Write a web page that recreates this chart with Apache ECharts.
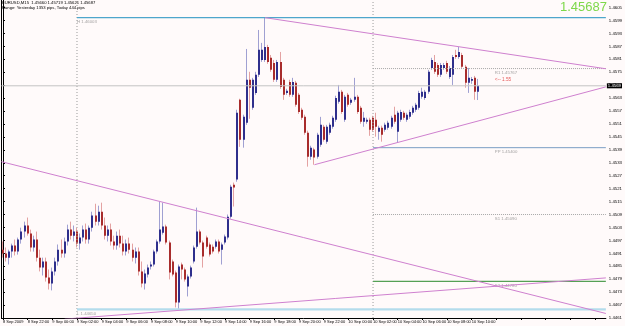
<!DOCTYPE html>
<html><head><meta charset="utf-8">
<script src="https://cdn.jsdelivr.net/npm/echarts@6/dist/echarts.min.js"></script>
<style>html,body{margin:0;padding:0;background:#fffafa}#c{width:625px;height:326px}</style>
</head><body><div id="c"></div>
<script>
const symbolName = 'EURUSD,M15';
const barsOnChart = 196;
const xTickLabels = ['8 Sep 2009','8 Sep 22:00','9 Sep 00:00','9 Sep 02:00','9 Sep 04:00','9 Sep 06:00','9 Sep 08:00','9 Sep 10:00','9 Sep 12:00','9 Sep 14:00','9 Sep 16:00','9 Sep 18:00','9 Sep 20:00','9 Sep 22:00','10 Sep 00:00','10 Sep 02:00','10 Sep 04:00','10 Sep 06:00','10 Sep 08:00','10 Sep 10:00'];
const yTickLabels = [1.4605,1.4599,1.4593,1.4587,1.4581,1.4575,1.4569,1.4563,1.4557,1.4551,1.4545,1.4539,1.4533,1.4527,1.4521,1.4515,1.4509,1.4503,1.4497,1.4491,1.4485,1.4479,1.4473,1.4467,1.4461];
const priceMin = 1.44610, priceMax = 1.46085;

const open = [1.44927,1.44909,1.44890,1.44918,1.44946,1.44918,1.44974,1.45011,1.45039,1.45002,
1.44937,1.44974,1.44890,1.44844,1.44872,1.44798,1.44770,1.44826,1.44872,1.44927,
1.44909,1.44965,1.45020,1.44992,1.45011,1.44955,1.44983,1.45020,1.44974,1.45029,
1.45085,1.45057,1.45103,1.45039,1.44992,1.45020,1.44965,1.44946,1.44992,1.44955,
1.44918,1.44955,1.44927,1.44890,1.44918,1.44826,1.44770,1.44812,1.44849,1.44858,
1.44918,1.44965,1.45006,1.45034,1.44960,1.44872,1.44821,1.44682,1.44858,1.44835,
1.44756,1.44803,1.44872,1.44941,1.45011,1.44960,1.44983,1.44951,1.44941,1.44941,
1.44965,1.44927,1.44960,1.44983,1.45080,1.45228,1.45252,1.45622,1.45437,1.45516,
1.45715,1.45585,1.45654,1.45738,1.45807,1.45807,1.45867,1.45817,1.45793,1.45715,
1.45798,1.45715,1.45654,1.45705,1.45645,1.45701,1.45645,1.45576,1.45543,1.45469,
1.45358,1.45391,1.45358,1.45414,1.45497,1.45428,1.45469,1.45497,1.45529,1.45613,
1.45659,1.45529,1.45645,1.45608,1.45622,1.45636,1.45585,1.45520,1.45520,1.45529,
1.45539,1.45529,1.45474,1.45492,1.45483,1.45492,1.45497,1.45553,1.45474,1.45529,
1.45562,1.45529,1.45543,1.45562,1.45576,1.45585,1.45636,1.45631,1.45659,1.45770,
1.45798,1.45784,1.45738,1.45770,1.45793,1.45728,1.45738,1.45830,1.45821,1.45830,
1.45775,1.45701,1.45710,1.45724,1.45660];
const high = [1.44965,1.44937,1.44927,1.44955,1.44974,1.44983,1.45029,1.45057,1.45076,1.45020,
1.44992,1.45011,1.44927,1.44890,1.44890,1.44835,1.44844,1.44890,1.44951,1.44974,
1.44983,1.45043,1.45057,1.45039,1.45029,1.45002,1.45039,1.45048,1.45039,1.45103,
1.45140,1.45131,1.45145,1.45076,1.45039,1.45048,1.44992,1.45011,1.45020,1.44992,
1.44974,1.44983,1.44955,1.44937,1.44937,1.44872,1.44835,1.44858,1.44872,1.44927,
1.44974,1.45150,1.45145,1.45043,1.44969,1.44881,1.44830,1.44858,1.44867,1.44844,
1.44812,1.44853,1.44946,1.45122,1.45020,1.44969,1.44992,1.44960,1.44951,1.44974,
1.44974,1.44960,1.44997,1.45090,1.45228,1.45238,1.45576,1.45627,1.45553,1.45858,
1.45752,1.45724,1.45752,1.45946,1.45886,1.46003,1.45877,1.45830,1.45807,1.45807,
1.45844,1.45724,1.45673,1.45715,1.45724,1.45710,1.45654,1.45585,1.45553,1.45479,
1.45409,1.45400,1.45469,1.45543,1.45506,1.45506,1.45516,1.45548,1.45641,1.45691,
1.45668,1.45645,1.45654,1.45631,1.45724,1.45645,1.45594,1.45566,1.45539,1.45539,
1.45548,1.45562,1.45502,1.45502,1.45516,1.45525,1.45548,1.45590,1.45571,1.45576,
1.45571,1.45562,1.45576,1.45594,1.45608,1.45664,1.45678,1.45668,1.45761,1.45817,
1.45830,1.45793,1.45793,1.45793,1.45803,1.45779,1.45830,1.45854,1.45867,1.45840,
1.45784,1.45770,1.45728,1.45733,1.45719];
const low = [1.44890,1.44872,1.44858,1.44890,1.44900,1.44904,1.44955,1.44983,1.44992,1.44918,
1.44918,1.44872,1.44826,1.44807,1.44779,1.44742,1.44738,1.44807,1.44853,1.44890,
1.44890,1.44946,1.44974,1.44965,1.44937,1.44927,1.44965,1.44955,1.44955,1.45011,
1.45039,1.45039,1.45020,1.44974,1.44965,1.44946,1.44927,1.44927,1.44937,1.44900,
1.44900,1.44909,1.44872,1.44863,1.44807,1.44752,1.44742,1.44798,1.44835,1.44849,
1.44909,1.44955,1.44997,1.44951,1.44789,1.44803,1.44659,1.44650,1.44789,1.44779,
1.44710,1.44793,1.44863,1.44932,1.44951,1.44844,1.44932,1.44895,1.44909,1.44932,
1.44909,1.44858,1.44951,1.44974,1.45071,1.45127,1.45242,1.45404,1.45400,1.45506,
1.45534,1.45576,1.45645,1.45728,1.45798,1.45798,1.45789,1.45752,1.45705,1.45705,
1.45673,1.45622,1.45645,1.45636,1.45636,1.45590,1.45557,1.45529,1.45460,1.45312,
1.45344,1.45321,1.45349,1.45404,1.45428,1.45418,1.45460,1.45488,1.45520,1.45604,
1.45557,1.45520,1.45590,1.45599,1.45613,1.45557,1.45511,1.45497,1.45511,1.45455,
1.45474,1.45451,1.45437,1.45428,1.45474,1.45483,1.45488,1.45511,1.45423,1.45520,
1.45529,1.45520,1.45534,1.45553,1.45566,1.45576,1.45627,1.45622,1.45650,1.45761,
1.45742,1.45728,1.45728,1.45761,1.45742,1.45719,1.45691,1.45812,1.45812,1.45766,
1.45678,1.45654,1.45696,1.45622,1.45621];
const close = [1.44909,1.44890,1.44918,1.44946,1.44918,1.44974,1.45011,1.45039,1.45002,1.44937,
1.44974,1.44890,1.44844,1.44872,1.44798,1.44770,1.44826,1.44872,1.44927,1.44909,
1.44965,1.45020,1.44992,1.45011,1.44955,1.44983,1.45020,1.44974,1.45029,1.45085,
1.45057,1.45103,1.45039,1.44992,1.45020,1.44965,1.44946,1.44992,1.44955,1.44918,
1.44955,1.44927,1.44890,1.44918,1.44826,1.44770,1.44816,1.44844,1.44858,1.44918,
1.44965,1.45020,1.45034,1.44960,1.44821,1.44812,1.44682,1.44849,1.44835,1.44789,
1.44803,1.44844,1.44937,1.45011,1.44960,1.44895,1.44941,1.44904,1.44918,1.44965,
1.44918,1.44951,1.44988,1.45080,1.45219,1.45215,1.45562,1.45437,1.45543,1.45715,
1.45678,1.45715,1.45738,1.45854,1.45854,1.45867,1.45798,1.45761,1.45715,1.45798,
1.45682,1.45645,1.45664,1.45645,1.45705,1.45599,1.45566,1.45539,1.45469,1.45358,
1.45400,1.45354,1.45460,1.45506,1.45437,1.45497,1.45506,1.45539,1.45631,1.45659,
1.45566,1.45636,1.45599,1.45622,1.45636,1.45566,1.45520,1.45539,1.45529,1.45483,
1.45483,1.45497,1.45492,1.45460,1.45506,1.45516,1.45539,1.45520,1.45562,1.45566,
1.45539,1.45553,1.45566,1.45585,1.45599,1.45654,1.45659,1.45659,1.45752,1.45807,
1.45752,1.45738,1.45784,1.45784,1.45752,1.45770,1.45821,1.45821,1.45844,1.45775,
1.45701,1.45724,1.45719,1.45659,1.45687];

const daySeparators = [24, 120];
const trendLines = [
  [[-0.5, 1.45335], [195.5, 1.44631]],
  [[20, 1.44605], [195.5, 1.44796]],
  [[85, 1.46003], [195.5, 1.45766]],
  [[101, 1.45321], [195.5, 1.45682]]
];
const pivotNames = ['R1', 'PP', 'S1', 'S2'];
const pivotValues = [1.45767, 1.45400, 1.45090, 1.44780];
const pivotNote = '<-- 1.55';
const pivotLabelBar = 159.5;

const n = open.length;
const last = n - 1;
const cats = Array.from({length: barsOnChart}, (_, i) => String(i));
const ySlice = (arr) => arr.slice(daySeparators[0], daySeparators[1]);
const dayHigh = Math.max(...ySlice(high));
const dayLow = Math.min(...ySlice(low));
const todayHigh = Math.max(...high.slice(daySeparators[1]));
const todayLow = Math.min(...low.slice(daySeparators[1]));
const pts = (v) => Math.round(v * 100000);
const header1 = symbolName + '  ' + open[last].toFixed(5) + ' ' + high[last].toFixed(5) + ' ' + low[last].toFixed(5) + ' ' + close[last].toFixed(5);
const header2 = 'Range: Yesterday ' + (pts(dayHigh) - pts(dayLow)) + ' pips, Today ' + (pts(todayHigh) - pts(todayLow)) + ' pips';

const BULL = '#2f2f8c', BEAR = '#a82c2c', BULLW = '#a0a0d2', BEARW = '#e4a2a2';
const FONT = 'Liberation Sans';
const FS = 4.3;

const candleData = open.map((o, i) => [i, o, close[i], low[i], high[i]]);

function renderCandle(params, api) {
  const i = api.value(0), o = api.value(1), c = api.value(2), l = api.value(3), h = api.value(4);
  const pO = api.coord([i, o]), pC = api.coord([i, c]);
  const pL = api.coord([i, l]), pH = api.coord([i, h]);
  const x0 = Math.round(pO[0] - 1);
  const top = Math.min(pO[1], pC[1]), bot = Math.max(pO[1], pC[1]);
  const bull = c >= o;
  return {
    type: 'group',
    children: [
      {type: 'line', shape: {x1: x0 + 0.5, y1: pH[1], x2: x0 + 0.5, y2: pL[1]},
       style: {stroke: bull ? BULLW : BEARW, lineWidth: 1}},
      {type: 'rect', shape: {x: x0, y: top, width: 2, height: Math.max(bot - top, 1)},
       style: {fill: bull ? BULL : BEAR}}
    ]
  };
}

const lineSeries = (data, style) => ({
  type: 'line', xAxisIndex: 1, yAxisIndex: 0, data: data, symbol: 'none', silent: true,
  lineStyle: style, clip: true, animation: false
});

const series = [];
daySeparators.forEach(b => series.push(lineSeries([[b, priceMin], [b, priceMax]], {color: '#9a9a9a', width: 1, type: [1, 2]})));
// bid line with price box on the axis
const bid = lineSeries([[-0.5, close[last]], [barsOnChart - 0.5, close[last]]], {color: '#c4c4c4', width: 1});
bid.clip = false;
bid.endLabel = {show: true, distance: 1, formatter: close[last].toFixed(4), backgroundColor: '#000', color: '#fff',
  fontSize: FS, fontFamily: FONT, padding: [1, 1, 0, 1]};
series.push(bid);
series.push({
  type: 'custom', xAxisIndex: 0, yAxisIndex: 0, data: candleData, renderItem: renderCandle, silent: true,
  encode: {x: 0, y: [1, 2, 3, 4]}, clip: true
});
series.push(lineSeries([[daySeparators[0], dayHigh], [barsOnChart - 0.5, dayHigh]], {color: '#4ea6cc', width: 1.2}));
series.push(lineSeries([[daySeparators[0], dayLow], [barsOnChart - 0.5, dayLow]], {color: '#b4dcec', width: 2.2}));
const pivotStyles = [
  {color: '#a8a8a8', width: 1, type: [1, 1]},
  {color: '#7a9ec4', width: 1},
  {color: '#a8a8a8', width: 1, type: [1, 1]},
  {color: '#55a055', width: 1.2}
];
pivotValues.forEach((v, k) => series.push(lineSeries([[daySeparators[1], v], [barsOnChart - 0.5, v]], pivotStyles[k])));
trendLines.forEach(t => series.push(lineSeries(t, {color: '#cf80cf', width: 1})));

const ann = [];
ann.push({value: [daySeparators[0], dayHigh], label: {formatter: 'H ' + dayHigh.toFixed(5)}});
ann.push({value: [daySeparators[0], dayLow], label: {formatter: 'L ' + dayLow.toFixed(5)}});
pivotValues.forEach((v, k) => {
  const txt = '{a|' + pivotNames[k] + ' ' + v.toFixed(5) + '}' + (k === 0 ? '\n{b|' + pivotNote + '}' : '');
  ann.push({value: [pivotLabelBar, v], label: {formatter: txt}});
});
series.push({
  type: 'scatter', xAxisIndex: 1, yAxisIndex: 0, data: ann, symbolSize: 1, silent: true,
  itemStyle: {color: 'rgba(0,0,0,0)'},
  label: {show: true, position: 'bottom', align: 'left', distance: 1, fontSize: FS, fontFamily: FONT, color: '#8a8a8a', lineHeight: 6,
    rich: {a: {fontSize: FS, color: '#8a8a8a', fontFamily: FONT, lineHeight: 6}, b: {fontSize: FS + 0.4, color: '#e03030', fontFamily: FONT, lineHeight: 7}}}
});

const chart = echarts.init(document.getElementById('c'), null, {renderer: 'canvas'});
chart.setOption({
  animation: false,
  backgroundColor: '#fffafa',
  title: [
    {text: header1 + '\n' + header2, left: 2, top: 1, padding: 0,
     textStyle: {fontSize: 4.2, lineHeight: 4.4, fontWeight: 'normal', color: '#000', fontFamily: FONT}},
    {text: close[last].toFixed(5), right: 18, top: 1, padding: 0,
     textStyle: {fontSize: 13, fontWeight: 'normal', color: '#7ed84a', fontFamily: FONT}}
  ],
  grid: {left: 0, right: 16, top: 0, bottom: 8, containLabel: false},
  xAxis: [
    {type: 'category', data: cats, boundaryGap: true, gridIndex: 0,
     axisLine: {show: true, lineStyle: {color: '#000', width: 1}},
     axisTick: {show: true, interval: 7, alignWithLabel: true, length: 2, lineStyle: {color: '#000'}},
     axisLabel: {interval: 7, align: 'left', margin: 2, fontSize: 4.0, color: '#000', fontFamily: FONT,
       formatter: (v, i) => xTickLabels[i / 8] || ''},
     splitLine: {show: false}},
    {type: 'value', min: -0.5, max: barsOnChart - 0.5, show: false, gridIndex: 0}
  ],
  yAxis: [
    {type: 'value', position: 'right', min: priceMin, max: priceMax, scale: true,
     axisLine: {show: true, lineStyle: {color: '#000', width: 1}},
     axisTick: {show: true, length: 2, customValues: yTickLabels, lineStyle: {color: '#000'}},
     axisLabel: {customValues: yTickLabels, formatter: v => v.toFixed(4), fontSize: FS, margin: 3, color: '#000', fontFamily: FONT},
     splitLine: {show: false}},
    {type: 'value', position: 'left', min: priceMin, max: priceMax, scale: true,
     axisLine: {show: true, lineStyle: {color: '#000', width: 1}},
     axisTick: {show: false}, axisLabel: {show: false}, splitLine: {show: false}}
  ],
  series: series
});
</script></body></html>
